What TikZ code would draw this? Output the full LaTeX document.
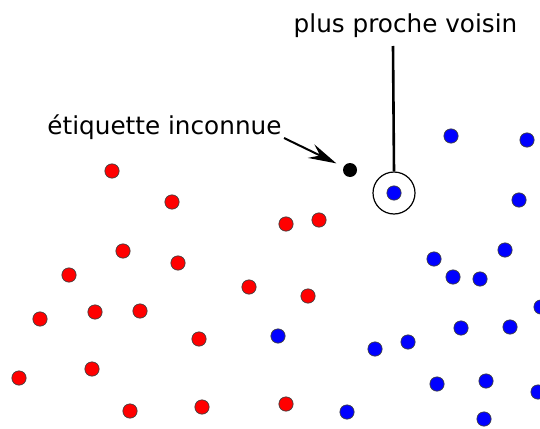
\documentclass[tikz,border=0pt]{standalone}
\usepackage{fontspec}
\setmainfont{DejaVu Sans}
\usetikzlibrary{arrows.meta}
\tikzset{
  pt/.style={circle, inner sep=0pt, minimum size=14.3pt, draw=black!75, line width=0.7pt},
  redpt/.style={pt, fill=red},
  bluept/.style={pt, fill=blue},
  unknownpt/.style={circle, inner sep=0pt, minimum size=14pt, fill=black},
  ring/.style={circle, inner sep=0pt, minimum size=42pt, draw=black, line width=1.2pt},
  lbl/.style={font=\fontsize{24.7pt}{28pt}\selectfont, inner sep=0pt, anchor=base},
  pointer/.style={line width=2pt, -{Stealth[length=28pt, width=15pt, inset=10pt]}, shorten >=8pt},
  leader/.style={line width=2.6pt}
}
\begin{document}
\begin{tikzpicture}[x=1pt, y=-1pt]
\useasboundingbox (0,0) rectangle (540,428);
% red points
\node[redpt] (r1) at (112,171) {};
\node[redpt] (r2) at (172,202) {};
\node[redpt] (r3) at (286,224) {};
\node[redpt] (r4) at (319,220) {};
\node[redpt] (r5) at (123,251) {};
\node[redpt] (r6) at (178,263) {};
\node[redpt] (r7) at (69,275) {};
\node[redpt] (r8) at (249,287) {};
\node[redpt] (r9) at (308,296) {};
\node[redpt] (r10) at (95,312) {};
\node[redpt] (r11) at (140,311) {};
\node[redpt] (r12) at (40,319) {};
\node[redpt] (r13) at (199,339) {};
\node[redpt] (r14) at (19,378) {};
\node[redpt] (r15) at (92,369) {};
\node[redpt] (r16) at (130,411) {};
\node[redpt] (r17) at (202,407) {};
\node[redpt] (r18) at (286,404) {};
% blue points
\node[bluept] (b1) at (451,136) {};
\node[bluept] (b2) at (527,140) {};
\node[bluept] (b3) at (519,200) {};
\node[bluept] (b4) at (434,259) {};
\node[bluept] (b5) at (505,250) {};
\node[bluept] (b6) at (453,277) {};
\node[bluept] (b7) at (480,279) {};
\node[bluept] (b8) at (541,307) {};
\node[bluept] (b9) at (461,328) {};
\node[bluept] (b10) at (510,327) {};
\node[bluept] (b11) at (278,336) {};
\node[bluept] (b12) at (375,349) {};
\node[bluept] (b13) at (408,342) {};
\node[bluept] (b14) at (437,384) {};
\node[bluept] (b15) at (486,381) {};
\node[bluept] (b16) at (538,392) {};
\node[bluept] (b17) at (484,419) {};
\node[bluept] (b18) at (347,412) {};
% nearest neighbour
\node[bluept] (nn) at (394,193) {};
\node[ring] (ring) at (394,193) {};
% unknown point
\node[unknownpt] (unk) at (350,170) {};
% labels
\node[lbl] (lplus) at (405.5,33) {plus proche voisin};
\node[lbl] (letiq) at (164.5,134) {étiquette inconnue};
\coordinate (pstart) at (284,138);
\coordinate (lstart) at (393,46);
\draw[pointer] (pstart) -- (unk);
\draw[leader] (lstart) -- (ring.north);
\end{tikzpicture}
\end{document}
